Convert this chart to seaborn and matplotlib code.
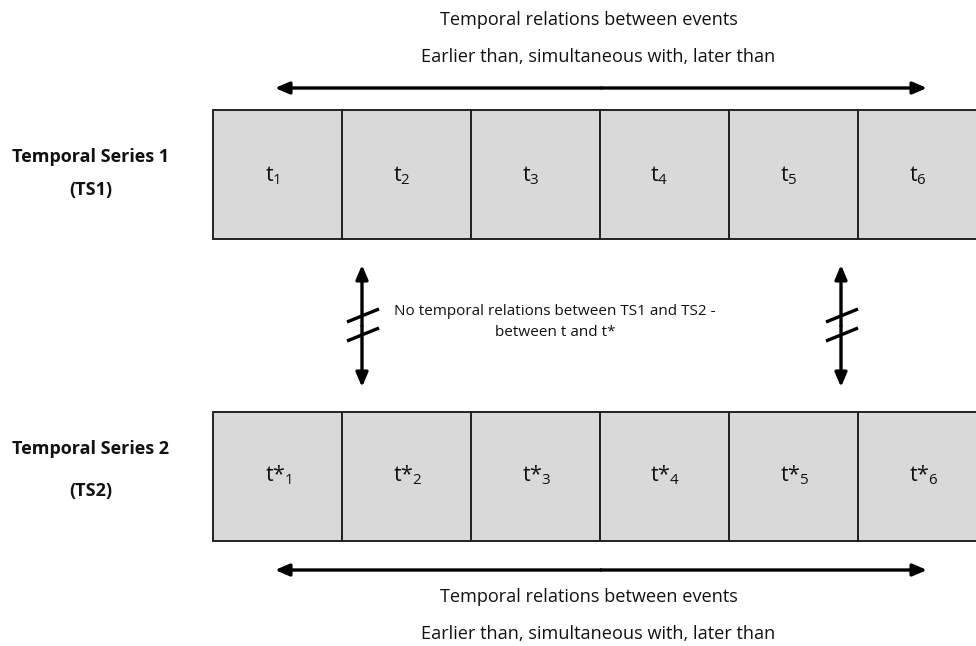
import matplotlib
matplotlib.use("Agg")
import matplotlib.pyplot as plt
import seaborn as sns
import pandas as pd

sns.set_theme(style="white")
plt.rcParams['font.family'] = ['Open Sans', 'DejaVu Sans']
plt.rcParams['mathtext.fontset'] = 'custom'
plt.rcParams['mathtext.rm'] = 'Open Sans'
plt.rcParams['mathtext.it'] = 'Open Sans'

# Data
series_labels = ["Temporal Series 1", "Temporal Series 2"]
series_short = ["(TS1)", "(TS2)"]
cell_index = [1, 2, 3, 4, 5, 6]
ts1_cells = [r"t$_{\mathrm{%d}}$" % i for i in cell_index]
ts2_cells = [r"t*$_{\mathrm{%d}}$" % i for i in cell_index]
relation_title = "Temporal relations between events"
relation_sub = "Earlier than, simultaneous with, later than"
middle_text = "No temporal relations between TS1 and TS2 -\nbetween t and t*"

W, H = 976, 646
fig = plt.figure(figsize=(W / 100, H / 100), dpi=100)
ax = fig.add_axes([0, 0, 1, 1])
ax.set_xlim(0, W)
ax.set_ylim(H, 0)
ax.axis("off")

cell_w = 129
x0 = 213
rows = [(110, 129), (412, 129)]
label_offsets = [(47, 80), (37, 79)]
fill = "#d9d9d9"
fs_top = 13.1
fs_mid = 11
fs_lab = 13

df = pd.DataFrame({"x": [x0 + i * cell_w for i in range(6)]})
for r, (top, h) in enumerate(rows):
    ax.bar(df["x"], h, width=cell_w, bottom=top, align="edge",
           color=fill, edgecolor="#222222", linewidth=1.4, clip_on=True)
    labels = ts1_cells if r == 0 else ts2_cells
    off = -5 if r == 0 else 1
    for i, lab in enumerate(labels):
        ax.text(x0 + i * cell_w + cell_w / 2 + off, top + h / 2 + (1 if r == 0 else -1), lab,
                ha="center", va="center", fontsize=15.5, color="#111111")
    o1, o2 = label_offsets[r]
    ax.text(91, top + o1, series_labels[r], ha="center", va="center",
            fontsize=fs_lab, fontweight="bold", color="#111111")
    ax.text(91, top + o2, series_short[r], ha="center", va="center",
            fontsize=fs_lab, fontweight="bold", color="#111111")

arrow_kw = dict(arrowstyle="-|>,head_length=0.7,head_width=0.3", color="black", lw=2.4,
                shrinkA=0, shrinkB=0)
for y in (88, 570):
    ax.annotate("", xy=(275, y), xytext=(601, y), arrowprops=arrow_kw)
    ax.annotate("", xy=(927, y), xytext=(601, y), arrowprops=arrow_kw)

# text top and bottom
ax.text(589, 20, relation_title, ha="center", va="center", fontsize=fs_top, color="#111111")
ax.text(598, 57, relation_sub, ha="center", va="center", fontsize=fs_top, color="#111111")
ax.text(589, 597, relation_title, ha="center", va="center", fontsize=fs_top, color="#111111")
ax.text(598, 634, relation_sub, ha="center", va="center", fontsize=fs_top, color="#111111")

# vertical arrows with break marks
for xv in (362, 841):
    ax.annotate("", xy=(xv, 265), xytext=(xv, 326), arrowprops=arrow_kw)
    ax.annotate("", xy=(xv, 387), xytext=(xv, 326), arrowprops=arrow_kw)
    ax.plot([xv - 15, xv + 17], [322, 309], color="black", lw=2.4, solid_capstyle="butt")
    ax.plot([xv - 15, xv + 17], [341, 328], color="black", lw=2.4, solid_capstyle="butt")

ax.text(555, 322, middle_text, ha="center", va="center", fontsize=fs_mid,
        color="#111111", linespacing=1.6)

fig.savefig("out.png", dpi=100)
